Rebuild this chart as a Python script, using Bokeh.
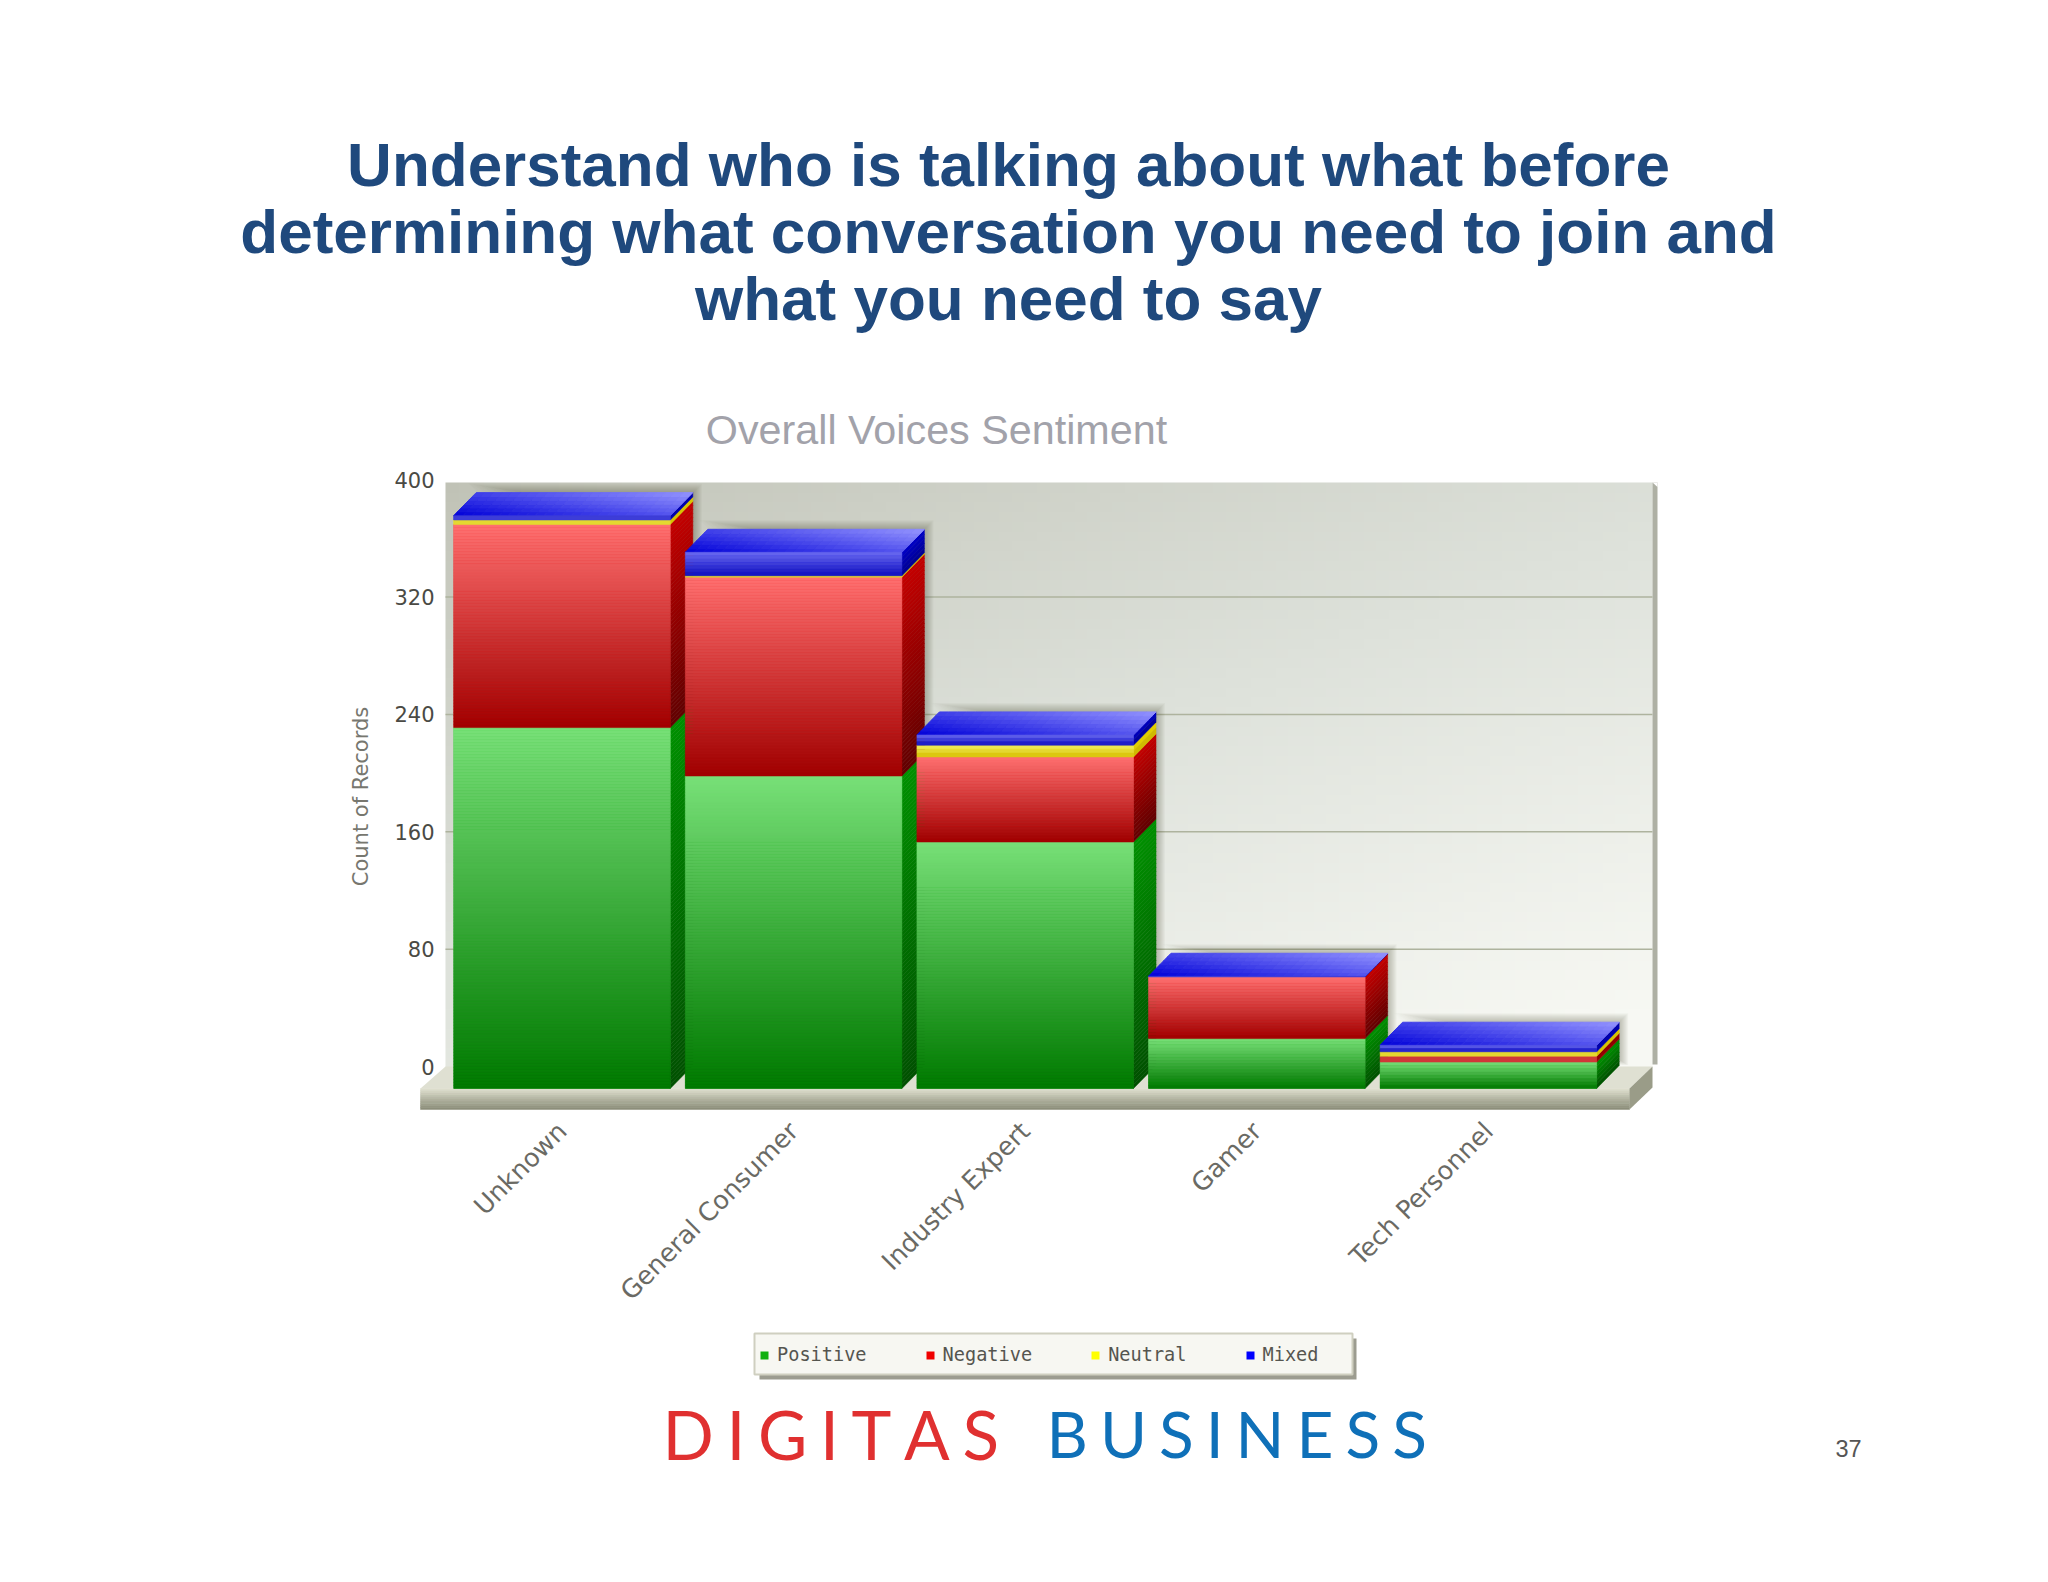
import math
import numpy as np
from bokeh.plotting import figure
from bokeh.models import Label, LinearAxis, FixedTicker, Legend, LegendItem
from bokeh.embed import file_html
from bokeh.resources import INLINE

categories = ["Unknown", "General Consumer", "Industry Expert", "Gamer", "Tech Personnel"]
positive = [246, 213, 168, 34, 18]
negative = [138.5, 135.5, 58, 42, 4]
neutral = [3, 1, 8, 0, 3]
mixed = [3, 16, 7, 0.5, 4.5]
y_ticks = [0, 80, 160, 240, 320, 400]
series_names = ["Positive", "Negative", "Neutral", "Mixed"]
title_lines = ["Understand who is talking about what before",
               "determining what conversation you need to join and",
               "what you need to say"]
chart_title = "Overall Voices Sentiment"
axis_title = "Count of Records"

# page-pixel geometry of the chart
PX_PITCH, PX_ORIGIN = 231.6, 561.5
PY_PER_UNIT, PY_ZERO = 1.467, 1066.0
def X(px): return (px - PX_ORIGIN) / PX_PITCH
def Y(py): return (PY_ZERO - py) / PY_PER_UNIT
BAR_W = 216.6 / PX_PITCH
DX = 22.5 / PX_PITCH
DY = 23 / PY_PER_UNIT
BASE = Y(1088)

def hexc(c): return tuple(int(c[i:i+2], 16) for i in (1, 3, 5))
def mix(a, b, t):
    a, b = hexc(a), hexc(b)
    return "#%02x%02x%02x" % tuple(int(round(a[i] + (b[i] - a[i]) * t)) for i in range(3))

solid = ["#10b010", "#f00000", "#ffff00", "#0000ff"]
front_grad = [("#78e078", "#007800"), ("#ff7070", "#a00000"), ("#f0f060", "#d8c000"), ("#6a6af0", "#1010c0")]
side_grad = [("#009000", "#005000"), ("#c40000", "#600000"), ("#e8d800", "#c8b000"), ("#0000c8", "#000090")]
top_grad = ("#0000d8", "#9494ff")

p = figure(width=2032, height=1566, x_range=(X(0), X(2032)), y_range=(Y(1566), Y(0)),
           output_backend="svg", toolbar_location=None, min_border=0,
           x_axis_type=None, y_axis_type=None, outline_line_color=None,
           background_fill_color="white", border_fill_color="white")
p.xgrid.visible = False
p.ygrid.visible = False

# back wall
WL, WR, WT, WB = X(445), X(1652), Y(482), Y(1067)
h, w = 60, 96
img = np.zeros((h, w), dtype=np.uint32)
v = img.view(dtype=np.uint8).reshape((h, w, 4))
for j in range(h):       # row 0 = bottom
    for i in range(w):
        t = 0.45 * (i / (w - 1)) + 0.6 * (1 - j / (h - 1))
        t = min(t ** 0.85, 1)
        col = hexc(mix("#c0c2b6", "#dde1da", t / 0.55)) if t < 0.55 else hexc(mix("#dde1da", "#f7f8f3", (t - 0.55) / 0.45))
        v[j, i] = [col[0], col[1], col[2], 255]
p.image_rgba(image=[img], x=WL, y=WB, dw=WR - WL, dh=WT - WB)
p.quad(left=[WR], right=[X(1657)], bottom=[Y(1064)], top=[WT + 0], fill_color="#aeb0a4", line_color=None)
p.patch(x=[X(1652), X(1657), X(1657)], y=[WT, WT - 3, WT], fill_color="white", line_color=None)

# grid lines on the wall
gt = y_ticks[1:-1]
p.segment(x0=[WL] * len(gt), x1=[WR] * len(gt), y0=gt, y1=gt, line_color="#aeb39e", line_width=1.5)

# floor
p.patch(x=[X(420), X(445), X(1652), X(1629)], y=[Y(1088), Y(1066), Y(1066), Y(1088)],
        fill_color="#dfe0d2", line_color=None)
FN = 10
fy = np.linspace(Y(1088), Y(1109), FN + 1)
p.quad(left=[X(420)] * FN, right=[X(1629)] * FN, top=fy[:-1], bottom=fy[1:],
       fill_color=[mix("#dcddcc", "#8c8e7a", k / (FN - 1)) for k in range(FN)],
       line_color=[mix("#dcddcc", "#8c8e7a", k / (FN - 1)) for k in range(FN)], line_width=0.5)
p.patch(x=[X(1629), X(1652), X(1652), X(1629)], y=[Y(1088), Y(1066), Y(1087), Y(1109)],
        fill_color="#9a9c88", line_color=None)

series = [positive, negative, neutral, mixed]
xs = list(range(len(categories)))
cum = np.zeros(len(categories)) + BASE

# solid stack, also the source of the legend's swatches
legend_items = []
for s, name, col in zip(series, series_names, solid):
    top = cum + np.array(s)
    r = p.vbar(x=xs, bottom=cum, top=top, width=BAR_W, fill_color=col, line_color=None)
    legend_items.append(LegendItem(label=name, renderers=[r]))
    cum = top

for i in xs:
    x0, x1 = i - BAR_W / 2, i + BAR_W / 2
    vals = [s[i] for s in series]
    total = BASE + sum(vals)
    # soft shadow on what lies behind
    for k in range(9, 0, -1):
        ex, ey = k / PX_PITCH, k / PY_PER_UNIT
        p.patch(x=[x1 + DX + ex, x1 + DX + ex, x0 + DX - ex, x1],
                y=[BASE + DY, total + DY + ey, total + DY + ey, total],
                fill_color="#30302a", fill_alpha=0.035, line_color=None)
    # side faces
    sx, sy, sc = [], [], []
    b = BASE
    for k, val in enumerate(vals):
        if val <= 0:
            continue
        n = max(1, int(val * PY_PER_UNIT / 4))
        edges = np.linspace(b + val, b, n + 1)
        for m in range(n):
            sx.append([x1, x1 + DX, x1 + DX, x1])
            sy.append([edges[m+1], edges[m+1] + DY, edges[m] + DY, edges[m]])
            sc.append(mix(side_grad[k][0], side_grad[k][1], (m + 0.5) / n))
        b += val
    p.patches(xs=sx, ys=sy, fill_color=sc, line_color=sc, line_width=0.5)
    # top face
    tx, ty, tc = [], [], []
    NU, NV = 24, 6
    for a in range(NU):
        for c in range(NV):
            u0, u1 = a / NU, (a + 1) / NU
            v0, v1 = c / NV, (c + 1) / NV
            px = lambda u, vv: x0 + (x1 - x0) * u + DX * vv
            py = lambda vv: total + DY * vv
            tx.append([px(u0, v0), px(u1, v0), px(u1, v1), px(u0, v1)])
            ty.append([py(v0), py(v0), py(v1), py(v1)])
            tc.append(mix(top_grad[0], top_grad[1], 0.55 * (a + .5) / NU + 0.45 * (c + .5) / NV))
    p.patches(xs=tx, ys=ty, fill_color=tc, line_color=tc, line_width=1)
    # front faces
    qb, qt, qc = [], [], []
    b = BASE
    for k, val in enumerate(vals):
        if val <= 0:
            continue
        n = max(1, int(val * PY_PER_UNIT / 3))
        edges = np.linspace(b + val, b, n + 1)
        for m in range(n):
            qt.append(edges[m]); qb.append(edges[m + 1])
            qc.append(mix(front_grad[k][0], front_grad[k][1], (m + 0.5) / n if n > 1 else 0.5))
        b += val
    p.quad(left=[x0] * len(qb), right=[x1] * len(qb), bottom=qb, top=qt,
           fill_color=qc, line_color=qc, line_width=0.5)

# axes
ya = LinearAxis(fixed_location=X(446), ticker=FixedTicker(ticks=y_ticks),
                axis_line_color=None, major_tick_line_color=None, minor_tick_line_color=None,
                major_label_text_font="DejaVu Sans", major_label_text_font_size="21px",
                major_label_text_color="#4a4a44", major_label_standoff=6,
                axis_label=None)
p.add_layout(ya, "left")
xa = LinearAxis(fixed_location=Y(1120), ticker=FixedTicker(ticks=xs),
                major_label_overrides={i: c for i, c in zip(xs, categories)},
                axis_line_color=None, major_tick_line_color=None, minor_tick_line_color=None,
                major_label_text_font="DejaVu Sans", major_label_text_font_size="25.5px",
                major_label_text_color="#6a6a64", major_label_orientation=math.pi / 4,
                major_label_standoff=0)
p.add_layout(xa, "below")

def txt(text, px, py, size, color, font="Liberation Sans", style="normal", angle=0, align="center"):
    p.add_layout(Label(x=X(px), y=Y(py), text=text, text_font=font, text_font_size=f"{size}px",
                       text_color=color, text_font_style=style, text_align=align,
                       text_baseline="middle", angle=angle))

txt(axis_title, 360, 796, 21, "#77776f", font="DejaVu Sans", angle=math.pi / 2)
for line, py in zip(title_lines, [164, 231, 298]):
    txt(line, 1008, py, 62, "#1f497d", style="bold")
txt(chart_title, 936, 429, 41.3, "#a2a2aa")
txt("37", 1848, 1448, 23.5, "#555555")
txt("D\u2009\u200aI\u2009\u200aG\u2009\u200aI\u2009\u200aT\u2009\u200aA\u2009\u200aS", 662, 1433, 67.5, "#e03030", font="Lato", align="left")
txt("B\u2009\u200aU\u2009\u200aS\u2009\u200aI\u2009\u200aN\u2009\u200aE\u2009\u200aS\u2009\u200aS", 1046, 1433, 64, "#0f70b8", font="Lato", align="left")

# legend box with its shadow, and the legend's items on it
p.quad(left=[X(759)], right=[X(1356)], top=[Y(1338)], bottom=[Y(1379)], fill_color="#9c9c90", line_color=None)
p.quad(left=[X(754)], right=[X(1352)], top=[Y(1333)], bottom=[Y(1374)], fill_color="#f7f7f2", line_color="#cfcfc0", line_width=2)
legend = Legend(items=legend_items, orientation="horizontal", location=(759, 201),
                glyph_width=10, glyph_height=10, label_standoff=8, spacing=58, padding=9, margin=0,
                label_text_font="DejaVu Sans Mono", label_text_font_size="18.6px",
                label_text_color="#55554f", background_fill_alpha=0, border_line_color=None)
p.add_layout(legend, "center")

open("out.html", "w").write(file_html(p, INLINE))
